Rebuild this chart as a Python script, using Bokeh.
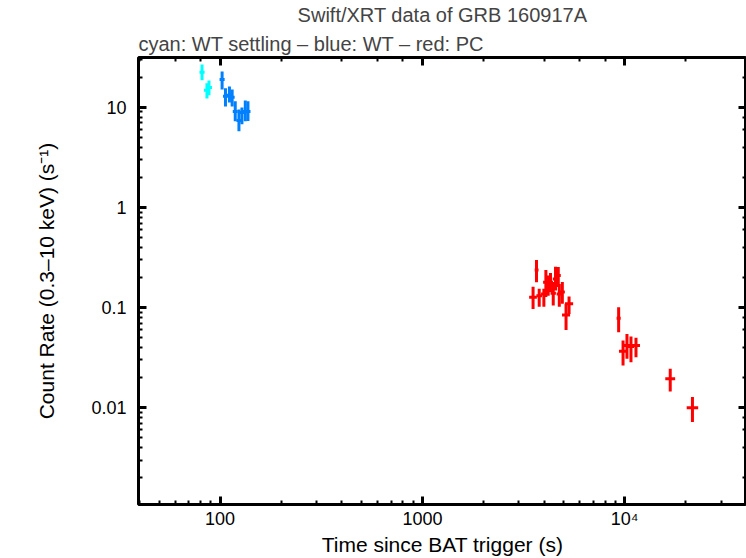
from bokeh.plotting import figure
from bokeh.models import LogAxis, LogTicker, Title, Range1d, CustomJSTickFormatter
from bokeh.embed import file_html
from bokeh.resources import INLINE

# WT settling (cyan)
wts_t = [81.4, 86.1, 88.1]
wts_t_lo = [79.1, 83.2, 85.1]
wts_t_hi = [83.8, 89.1, 91.2]
wts_rate = [22.5, 14.8, 15.8]
wts_rate_lo = [18.7, 12.3, 13.2]
wts_rate_hi = [26.8, 17.4, 18.6]

# WT (azul)
wt_t = [102.3, 106.3, 111.2, 114.7, 118.8, 123.9, 128.2, 133.2, 137.3]
wt_t_lo = [99.4, 103.3, 108.1, 111.5, 115.5, 120.4, 124.6, 129.4, 133.4]
wt_t_hi = [105.3, 109.4, 114.4, 118.0, 122.2, 127.5, 131.9, 137.1, 141.3]
wt_rate = [19.0, 12.9, 13.2, 12.6, 9.1, 7.4, 8.9, 9.1, 9.1]
wt_rate_lo = [15.1, 10.2, 11.2, 10.2, 7.25, 5.77, 6.77, 7.25, 7.3]
wt_rate_hi = [22.8, 15.5, 16.2, 15.1, 11.5, 9.55, 10.0, 11.7, 11.5]

# PC (vermelho)
pc_t = [3524, 3664, 3779, 3985, 4077, 4186, 4297, 4434, 4550, 4695, 4750,
        4917, 5129, 5308, 9333, 9813, 10260, 10740, 11370, 16790, 21620]
pc_t_lo = [3370, 3590, 3660, 3860, 3950, 4060, 4170, 4300, 4410, 4560, 4610,
           4770, 4900, 5070, 9120, 9370, 9910, 10380, 10860, 15870, 20250]
pc_t_hi = [3680, 3750, 3900, 4110, 4200, 4310, 4420, 4570, 4690, 4830, 4890,
           5060, 5370, 5560, 9550, 10280, 10620, 11120, 11900, 17760, 23080]
pc_rate = [0.127, 0.237, 0.1315, 0.137, 0.179, 0.166, 0.179, 0.139, 0.193, 0.209, 0.137,
           0.143, 0.0845, 0.109, 0.0783, 0.0367, 0.0418, 0.0408, 0.0418, 0.0195, 0.0100]
pc_rate_lo = [0.097, 0.179, 0.102, 0.102, 0.128, 0.1315, 0.143, 0.105, 0.148, 0.161, 0.102,
              0.109, 0.0598, 0.0865, 0.0568, 0.0264, 0.0308, 0.0285, 0.032, 0.0145, 0.0072]
pc_rate_hi = [0.162, 0.299, 0.154, 0.154, 0.237, 0.209, 0.222, 0.180, 0.256, 0.254, 0.172,
              0.180, 0.109, 0.129, 0.101, 0.0469, 0.0546, 0.0514, 0.0499, 0.0245, 0.0128]

x_labels = {100: "100", 1000: "1000", 10000: "10\u2074"}
y_labels = {0.01: "0.01", 0.1: "0.1", 1: "1", 10: "10"}

fonte = "Liberation Sans"

p = figure(width=746, height=558, x_axis_type="log", y_axis_type="log",
           x_range=Range1d(39.5, 40000), y_range=Range1d(0.00108, 31.5),
           output_backend="svg", toolbar_location=None,
           min_border_left=138, min_border_right=0, min_border_top=2, min_border_bottom=2)
p.xgrid.visible = False
p.ygrid.visible = False
p.outline_line_color = "black"
p.outline_line_width = 3

# barras de erro
for t, tl, th, r, rl, rh, cor in [
        (wts_t, wts_t_lo, wts_t_hi, wts_rate, wts_rate_lo, wts_rate_hi, "#00ffff"),
        (wt_t, wt_t_lo, wt_t_hi, wt_rate, wt_rate_lo, wt_rate_hi, "#0080ff"),
        (pc_t, pc_t_lo, pc_t_hi, pc_rate, pc_rate_lo, pc_rate_hi, "#ff0000")]:
    p.segment(x0=t, y0=rl, x1=t, y1=rh, line_color=cor, line_width=3)
    p.segment(x0=tl, y0=r, x1=th, y1=r, line_color=cor, line_width=3)


def estilo_eixo(ax):
    ax.axis_line_color = None
    ax.major_tick_in = 8
    ax.major_tick_out = 0
    ax.minor_tick_in = 4
    ax.minor_tick_out = 0
    ax.major_tick_line_width = 3
    ax.minor_tick_line_width = 2
    ax.major_label_text_font = fonte
    ax.major_label_text_font_size = "18px"
    ax.major_label_text_color = "black"
    ax.axis_label_text_font = fonte
    ax.axis_label_text_font_size = "21px"
    ax.axis_label_text_font_style = "normal"
    ax.axis_label_text_color = "black"


estilo_eixo(p.xaxis[0])
estilo_eixo(p.yaxis[0])
p.xaxis[0].major_label_overrides = x_labels
p.yaxis[0].major_label_overrides = y_labels
p.xaxis[0].axis_label = "Time since BAT trigger (s)"
p.yaxis[0].axis_label = "Count Rate (0.3\u201310 keV) (s\u207b\u00b9)"
p.xaxis[0].major_label_standoff = 4
p.yaxis[0].major_label_standoff = 12
p.xaxis[0].axis_label_standoff = 1
p.yaxis[0].axis_label_standoff = 30

# eixos espelhados sem rótulos
topo = LogAxis(ticker=LogTicker())
direita = LogAxis(ticker=LogTicker())
for ax in (topo, direita):
    estilo_eixo(ax)
    ax.formatter = CustomJSTickFormatter(code="return ''")
    ax.major_label_text_font_size = "1px"
    ax.major_label_standoff = 0
    ax.axis_label_standoff = 0
p.add_layout(direita, "right")

sub = Title(text="cyan: WT settling \u2013 blue: WT \u2013 red: PC", align="left",
            text_font=fonte, text_font_size="20px", text_font_style="normal", standoff=6)
tit = Title(text="Swift/XRT data of GRB 160917A", align="center",
            text_font=fonte, text_font_size="20px", text_font_style="normal", standoff=3)
p.add_layout(topo, "above")
p.add_layout(sub, "above")
p.add_layout(tit, "above")

open("out.html", "w").write(file_html(p, INLINE))
